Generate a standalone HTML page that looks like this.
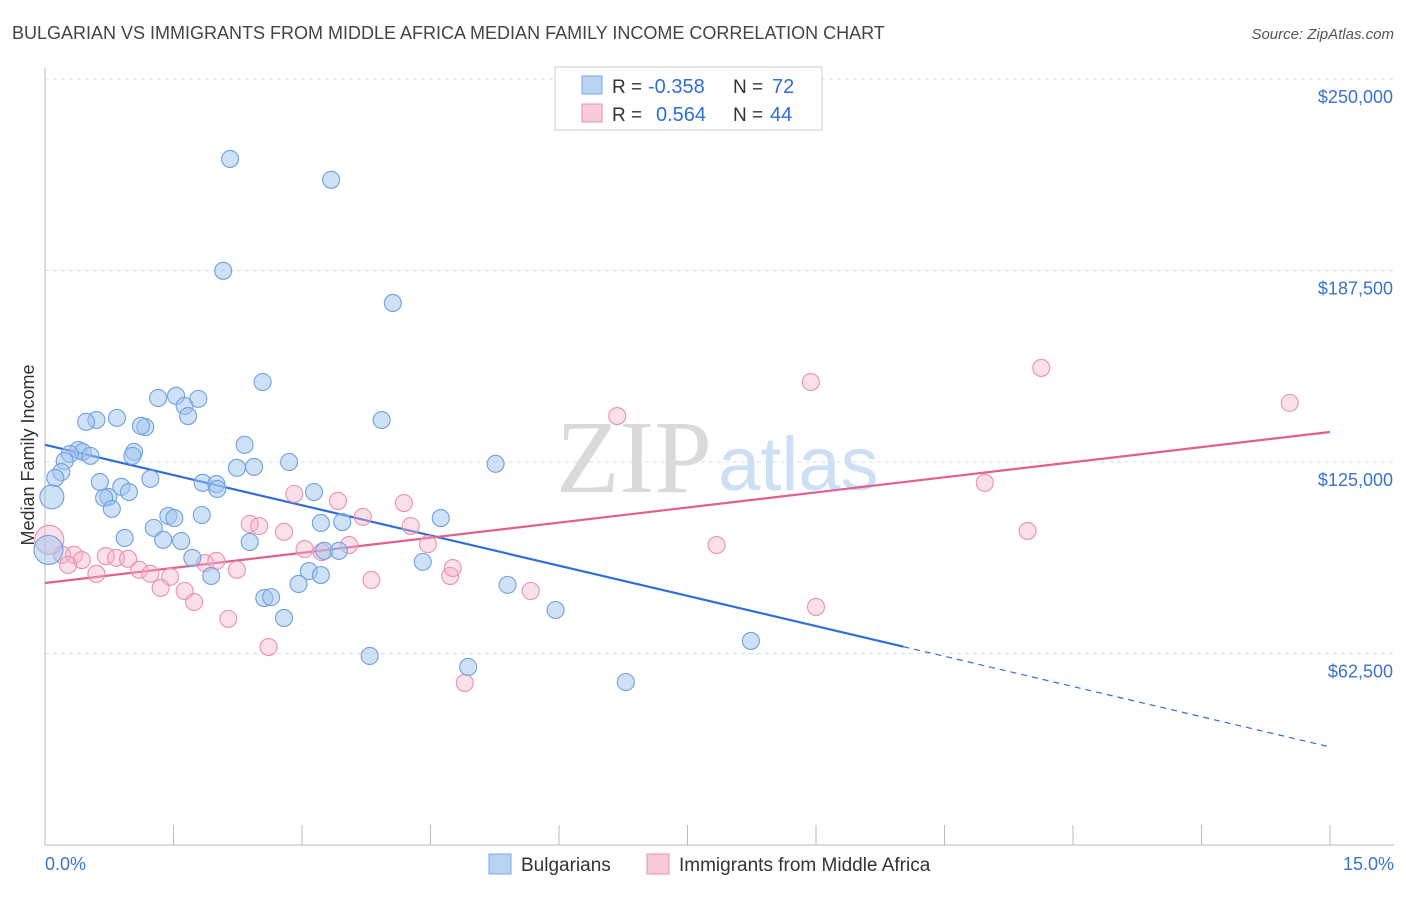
<!DOCTYPE html>
<html><head><meta charset="utf-8"><style>
body{margin:0;background:#fff;font-family:"Liberation Sans",sans-serif;}
svg text{font-family:"Liberation Sans",sans-serif;}
</style></head><body>
<svg width="1406" height="892" viewBox="0 0 1406 892" xmlns="http://www.w3.org/2000/svg">
<text x="12" y="39" font-size="18" fill="#444">BULGARIAN VS IMMIGRANTS FROM MIDDLE AFRICA MEDIAN FAMILY INCOME CORRELATION CHART</text>
<text x="1394" y="39" font-size="15" fill="#555" font-style="italic" text-anchor="end">Source: ZipAtlas.com</text>
<text x="712" y="492" font-size="104" fill="#dadada" text-anchor="end" style="font-family:'Liberation Serif',serif">ZIP</text>
<text x="718" y="490" font-size="76" fill="#cddff4">atlas</text>
<g id="grid"></g>
<g id="axes"></g>
<g id="lines"></g>
<g id="pts"></g>
<text transform="translate(34,455) rotate(-90)" font-size="18" fill="#333" text-anchor="middle">Median Family Income</text>
<g>
<rect x="555" y="67" width="267" height="63" fill="#fff" stroke="#ccc"/>
<rect x="582" y="76" width="20" height="18" fill="#b9d3f3" stroke="#7aaae6"/>
<rect x="582" y="104" width="20" height="18" fill="#f9cad8" stroke="#e891b0"/>
<text x="612" y="93" font-size="19" fill="#333">R =</text>
<text x="648" y="93" font-size="20" fill="#2f6fd6">-0.358</text>
<text x="733" y="93" font-size="19" fill="#333">N =</text>
<text x="772" y="93" font-size="20" fill="#2f6fd6">72</text>
<text x="612" y="121" font-size="19" fill="#333">R =</text>
<text x="656" y="121" font-size="20" fill="#2f6fd6">0.564</text>
<text x="733" y="121" font-size="19" fill="#333">N =</text>
<text x="770" y="121" font-size="20" fill="#2f6fd6">44</text>
</g>
<g>
<rect x="489" y="854" width="22" height="20" fill="#b9d3f3" stroke="#7aaae6"/>
<text x="521" y="871" font-size="19" fill="#333">Bulgarians</text>
<rect x="647" y="854" width="22" height="20" fill="#f9cad8" stroke="#e891b0"/>
<text x="679" y="871" font-size="19" fill="#333">Immigrants from Middle Africa</text>
</g>
</svg>
<script>
const blueX=[2.16,3.34,2.08,4.06,2.54,3.93,1.32,1.53,1.63,1.79,1.67,0.60,0.84,0.48,1.17,1.12,0.39,0.44,0.29,0.53,0.23,0.19,1.04,1.02,2.33,2.24,2.44,2.85,5.26,1.23,0.64,0.89,0.98,0.74,0.69,0.78,1.84,2.00,2.01,3.14,0.12,0.08,1.27,1.44,1.51,1.83,3.22,3.47,4.62,0.93,1.38,1.59,2.39,1.72,1.94,3.26,3.43,4.41,3.08,3.22,2.96,5.40,2.56,2.64,2.79,5.96,3.79,4.94,6.78,8.24,0.04];
const blueY=[223900,217100,187400,176900,151100,138700,145900,146600,143300,145600,140000,138700,139400,138100,136400,136800,128900,128300,127600,127000,125300,121700,128300,127000,130600,123100,123400,125000,124400,119500,118500,116900,115200,113600,113300,109700,118200,117800,116200,115200,119800,113600,103500,107400,106700,107700,105100,105400,106700,100200,99600,99200,98900,93700,87800,96000,96000,92400,89400,88100,85200,84900,80600,80900,74100,76700,61700,58100,53200,66600,96300];
const blueW=[1,1,1,1,1,1,1,1,1,1,1,1,1,1,1,1,1,1,1,1,1,1,1,1,1,1,1,1,1,1,1,1,1,1,1,1,1,1,1,1,1,2,1,1,1,1,1,1,1,1,1,1,1,1,1,1,1,1,1,1,1,1,1,1,1,1,1,1,1,1,3];
const pinkX=[11.63,8.94,14.53,6.68,10.97,2.91,3.42,4.19,3.71,2.39,2.50,2.79,4.27,11.47,3.23,3.03,3.55,4.47,7.84,0.34,0.20,0.05,0.43,0.71,0.83,0.97,1.10,1.23,1.46,1.35,1.63,1.74,1.87,2.00,2.24,2.14,2.61,3.81,4.73,4.76,5.67,9.00,4.90,0.60,0.27];
const pinkY=[155700,151100,144300,140000,118200,114600,112300,111600,107100,104800,104100,102200,104100,102500,95600,96600,97900,98200,97900,94700,94700,99600,93000,94300,93700,93400,89800,88500,87500,83900,82900,79300,92000,92700,89800,73800,64600,86500,87800,90400,82900,77700,52900,88500,91400];
const pinkW=[1,1,1,1,1,1,1,1,1,1,1,1,1,1,1,1,1,1,1,1,1,3,1,1,1,1,1,1,1,1,1,1,1,1,1,1,1,1,1,1,1,1,1,1,1];
const yTicks=[62500,125000,187500,250000];
const yTickLabels=["$62,500","$125,000","$187,500","$250,000"];
const xTicks=[0,1.5,3,4.5,6,7.5,9,10.5,12,13.5,15];
const blueTrend=[130600,32000]; const blueSolidEnd=10.02;
const pinkTrend=[85500,134800];
const X0=45,X1=1330,Y0=845,YT=79;
const sx=v=>X0+(v/15)*(X1-X0);
const sy=v=>Y0-(v/250000)*(Y0-YT);
const NS="http://www.w3.org/2000/svg";
function mk(tag,attrs,parent){const e=document.createElementNS(NS,tag);for(const k in attrs)e.setAttribute(k,attrs[k]);document.getElementById(parent).appendChild(e);return e;}
yTicks.forEach((t,i)=>{
 const l=mk('line',{x1:X0,x2:1394,y1:sy(t),y2:sy(t),stroke:'#ddd','stroke-dasharray':'4,4'},'grid');
 
 
 const tx=mk('text',{x:1393,y:sy(t)+24,'font-size':18,fill:'#3b73d1','text-anchor':'end'},'grid');
 tx.textContent=yTickLabels[i];
 
 
});
const ax=mk('line',{x1:X0,x2:X0,y1:68,y2:Y0,stroke:'#bbb'},'axes');


const bx=mk('line',{x1:X0,x2:1394,y1:Y0,y2:Y0,stroke:'#bbb'},'axes');


xTicks.forEach(t=>{
 const l=mk('line',{x1:sx(t),x2:sx(t),y1:Y0,y2:Y0-20,stroke:'#bbb'},'axes');
 
 
});
const xl=mk('text',{x:X0,y:870,'font-size':18,fill:'#3b73d1'},'axes');xl.textContent='0.0%';


const xr=mk('text',{x:1394,y:870,'font-size':18,fill:'#3b73d1','text-anchor':'end'},'axes');xr.textContent='15.0%';


function drawPts(xs,ys,ws,fill,stroke,name){
 xs.forEach((x,i)=>{
  const c=mk('circle',{cx:sx(x),cy:sy(ys[i]),r:ws[i]>1?7+ws[i]*2.5:8.5,fill:fill,stroke:stroke,'stroke-width':1.1},'pts');
  
  
 });
}
drawPts(pinkX,pinkY,pinkW,'rgba(246,178,200,0.4)','#e891b0','point-immigrants');
drawPts(blueX,blueY,blueW,'rgba(160,196,240,0.5)','#6fa0e0','point-bulgarians');
const by=x=>blueTrend[0]+(blueTrend[1]-blueTrend[0])*x/15;
const b1=mk('line',{x1:sx(0),y1:sy(by(0)),x2:sx(blueSolidEnd),y2:sy(by(blueSolidEnd)),stroke:'#2f6fd6','stroke-width':2.2},'lines');


const b2=mk('line',{x1:sx(blueSolidEnd),y1:sy(by(blueSolidEnd)),x2:sx(15),y2:sy(by(15)),stroke:'#2f6fd6','stroke-width':1.2,'stroke-dasharray':'6,5'},'lines');


const p1=mk('line',{x1:sx(0),y1:sy(pinkTrend[0]),x2:sx(15),y2:sy(pinkTrend[1]),stroke:'#e0608f','stroke-width':2.2},'lines');


</script>
</body></html>
